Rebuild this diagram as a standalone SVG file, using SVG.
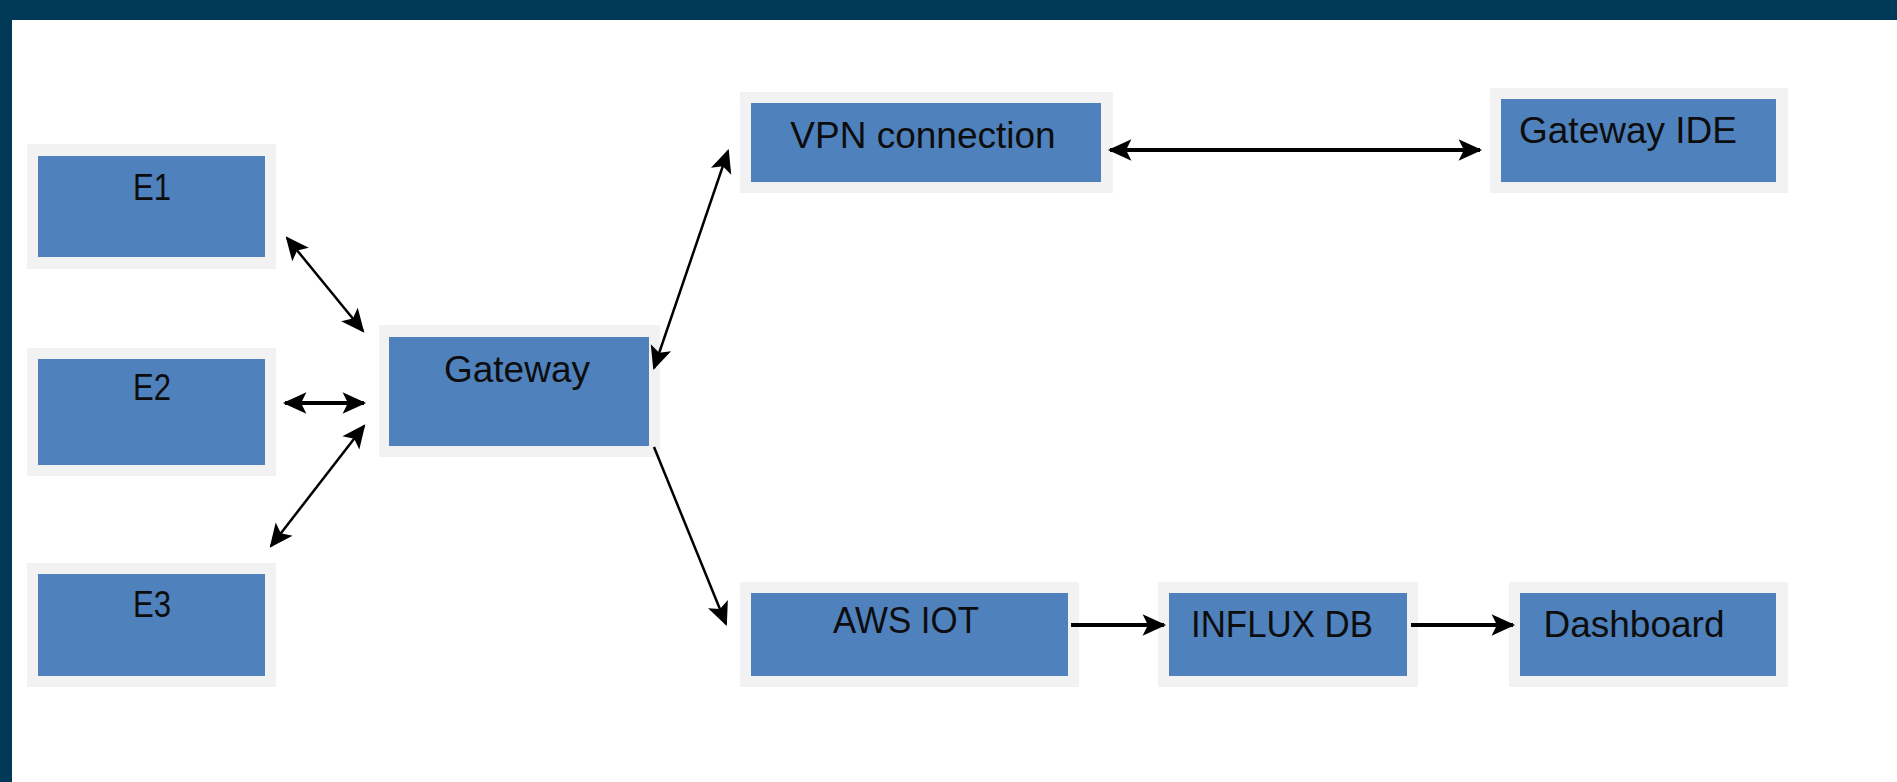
<svg xmlns="http://www.w3.org/2000/svg" width="1897" height="782" viewBox="0 0 1897 782">
  <style>
    .outer { fill: #f2f2f2; }
    .inner { fill: #4f81bd; }
    .lbl { font-family: "Liberation Sans", Arial, sans-serif; font-size: 37px; fill: #0d0d0d; text-anchor: middle; }
    .conn { stroke: #000; fill: none; }
    .h { stroke-width: 4; }
    .d { stroke-width: 2.5; }
  </style>
  <defs>
    <marker id="ah" markerUnits="userSpaceOnUse" markerWidth="30" markerHeight="30" refX="0" refY="0" viewBox="-24 -12 28 24" orient="auto-start-reverse" overflow="visible">
      <path d="M2,0 L-20,-10 L-15,0 L-20,10 Z" fill="#000"/>
    </marker>
  </defs>
  <rect x="0" y="0" width="1897" height="782" fill="#ffffff"/>
  <rect x="0" y="0" width="1897" height="20" fill="#003a57"/>
  <rect x="0" y="0" width="12" height="782" fill="#003a57"/>

  <g id="E1">
    <rect class="outer" x="27" y="144" width="249" height="125"/>
    <rect class="inner" x="38" y="156" width="227" height="101"/>
    <text class="lbl" x="152" y="200" textLength="38" lengthAdjust="spacingAndGlyphs">E1</text>
  </g>
  <g id="E2">
    <rect class="outer" x="27" y="348" width="249" height="128"/>
    <rect class="inner" x="38" y="359" width="227" height="106"/>
    <text class="lbl" x="152" y="400" textLength="38" lengthAdjust="spacingAndGlyphs">E2</text>
  </g>
  <g id="E3">
    <rect class="outer" x="27" y="563" width="249" height="124"/>
    <rect class="inner" x="38" y="574" width="227" height="102"/>
    <text class="lbl" x="152" y="617" textLength="38" lengthAdjust="spacingAndGlyphs">E3</text>
  </g>
  <g id="Gateway">
    <rect class="outer" x="379" y="325" width="281" height="132"/>
    <rect class="inner" x="389" y="337" width="260" height="109"/>
    <text class="lbl" x="517" y="382">Gateway</text>
  </g>
  <g id="VPN">
    <rect class="outer" x="740" y="92" width="373" height="101"/>
    <rect class="inner" x="751" y="103" width="350" height="79"/>
    <text class="lbl" x="923" y="148">VPN connection</text>
  </g>
  <g id="GatewayIDE">
    <rect class="outer" x="1490" y="88" width="298" height="105"/>
    <rect class="inner" x="1501" y="99" width="275" height="83"/>
    <text class="lbl" x="1628" y="143">Gateway IDE</text>
  </g>
  <g id="AWSIOT">
    <rect class="outer" x="740" y="582" width="339" height="105"/>
    <rect class="inner" x="751" y="593" width="317" height="83"/>
    <text class="lbl" x="906" y="633" textLength="146" lengthAdjust="spacingAndGlyphs">AWS IOT</text>
  </g>
  <g id="InfluxDB">
    <rect class="outer" x="1158" y="582" width="260" height="105"/>
    <rect class="inner" x="1169" y="593" width="238" height="83"/>
    <text class="lbl" x="1282" y="637" textLength="182" lengthAdjust="spacingAndGlyphs">INFLUX DB</text>
  </g>
  <g id="Dashboard">
    <rect class="outer" x="1509" y="582" width="279" height="105"/>
    <rect class="inner" x="1520" y="593" width="256" height="83"/>
    <text class="lbl" x="1634" y="637">Dashboard</text>
  </g>

  <g id="connectors">
    <line class="conn d" x1="287" y1="238" x2="363" y2="331" marker-start="url(#ah)" marker-end="url(#ah)"/>
    <line class="conn h" x1="285" y1="403" x2="364" y2="403" marker-start="url(#ah)" marker-end="url(#ah)"/>
    <line class="conn d" x1="271" y1="546" x2="364" y2="426" marker-start="url(#ah)" marker-end="url(#ah)"/>
    <line class="conn d" x1="654" y1="368" x2="728" y2="151" marker-start="url(#ah)" marker-end="url(#ah)"/>
    <line class="conn d" x1="654" y1="447" x2="726" y2="624" marker-end="url(#ah)"/>
    <line class="conn h" x1="1110" y1="150" x2="1480" y2="150" marker-start="url(#ah)" marker-end="url(#ah)"/>
    <line class="conn h" x1="1071" y1="625" x2="1164" y2="625" marker-end="url(#ah)"/>
    <line class="conn h" x1="1411" y1="625" x2="1513" y2="625" marker-end="url(#ah)"/>
  </g>
</svg>
